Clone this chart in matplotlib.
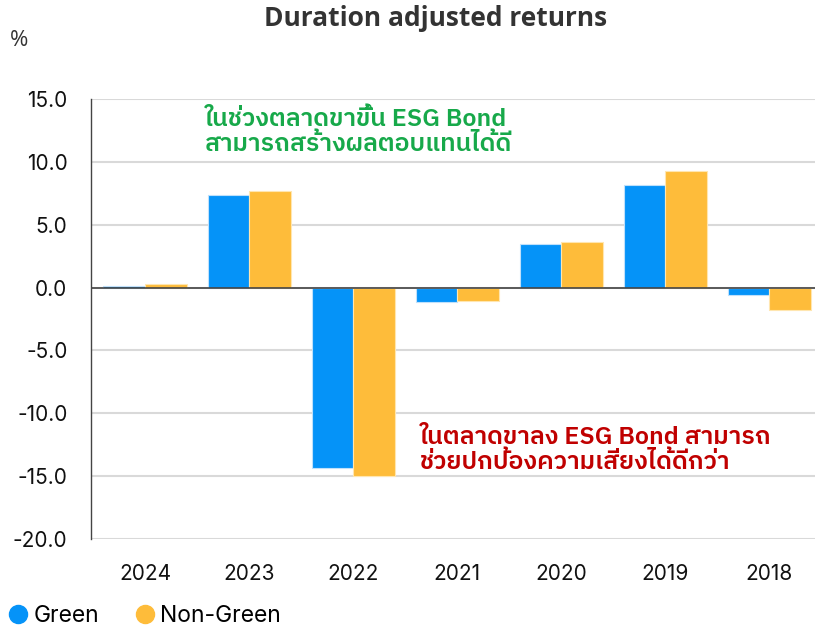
import matplotlib
matplotlib.use("Agg")
import matplotlib.pyplot as plt
from matplotlib import font_manager
from matplotlib.ft2font import FT2Font
from matplotlib.lines import Line2D
import numpy as np

years = ["2024", "2023", "2022", "2021", "2020", "2019", "2018"]
green = [0.15, 7.35, -14.35, -1.15, 3.5, 8.15, -0.6]
non_green = [0.3, 7.65, -14.95, -1.05, 3.65, 9.25, -1.8]
yticks = [15.0, 10.0, 5.0, 0.0, -5.0, -10.0, -15.0, -20.0]

title = "Duration adjusted returns"
note_up = "ในช่วงตลาดขาขึ้น ESG Bond\nสามารถสร้างผลตอบแทนได้ดี"
note_down = "ในตลาดขาลง ESG Bond สามารถ\nช่วยปกป้องความเสี่ยงได้ดีกว่า"

# find a font with Thai glyphs if one exists
thai_family = None
prefs = []
for fe in font_manager.fontManager.ttflist:
    try:
        f = FT2Font(fe.fname)
        cm = f.get_charmap()
        if 0x0E01 in cm and 0x0E2A in cm:
            prefs.append(fe.name)
    except Exception:
        pass
for p in prefs:
    if "Thai" in p:
        thai_family = p
        break
if thai_family is None and prefs:
    thai_family = prefs[0]
base = "Inter"
mixed_fams = ([thai_family] if thai_family else []) + ["DejaVu Sans"]

fig = plt.figure(figsize=(8.15, 6.3), dpi=100)
ax = fig.add_axes([91/815, 1-539/630, 1-91/815, (539-99)/630])

x = np.arange(len(years))
w = 0.4
c_green = "#0593F8"
c_non = "#FEBC3A"
ax.bar(x - w/2, green, w, color=c_green, edgecolor="#BFE0FB", linewidth=0.8, zorder=3)
ax.bar(x + w/2, non_green, w, color=c_non, edgecolor="#FFE6B0", linewidth=0.8, zorder=3)

ax.set_xlim(-0.52, 6.44)
ax.set_ylim(-20, 15)
ax.set_yticks(yticks)
ax.set_yticklabels([f"{v:.1f}" for v in yticks], fontsize=15, family=base, color="#111111")
ax.set_xticks(x)
ax.set_xticklabels(years, fontsize=15, family=base, color="#111111")
ax.tick_params(axis="y", length=0, pad=17)
ax.tick_params(axis="x", length=0, pad=18)
ax.grid(axis="y", color="#D9D9D9", linewidth=1.5, zorder=0)
ax.axhline(0, color="#444444", linewidth=1.2, zorder=4)
for s in ["top", "right", "bottom"]:
    ax.spines[s].set_visible(False)
ax.spines["left"].set_color("#444444")
ax.spines["left"].set_linewidth(1.0)

fig.text(436/815, 1-18/630, title, ha="center", va="center", fontsize=19,
         fontweight="bold", family="Open Sans", color="#333333")
fig.text(10/815, 1-40/630, "%", ha="left", va="center", fontsize=16, family="Open Sans", color="#333333")

fig.text(205/815, 1-132/630, note_up, ha="left", va="center", fontsize=18,
         family=mixed_fams, color="#17A94A", linespacing=1.1, fontweight=600)
fig.text(420/815, 1-450/630, note_down, ha="left", va="center", fontsize=18,
         family=mixed_fams, color="#C00000", linespacing=1.1, fontweight=600)

handles = [Line2D([], [], marker="o", linestyle="", markersize=13, color=c_green),
           Line2D([], [], marker="o", linestyle="", markersize=13, color=c_non)]
fig.legend(handles, ["Green", "Non-Green"], loc="center left", bbox_to_anchor=(0.0, 1-616/630),
           ncol=2, frameon=False, prop={"family": base, "size": 16.5}, handletextpad=0.05,
           columnspacing=1.4, handlelength=1.2, borderaxespad=0, borderpad=0.2)

fig.savefig("out.png", dpi=100)
